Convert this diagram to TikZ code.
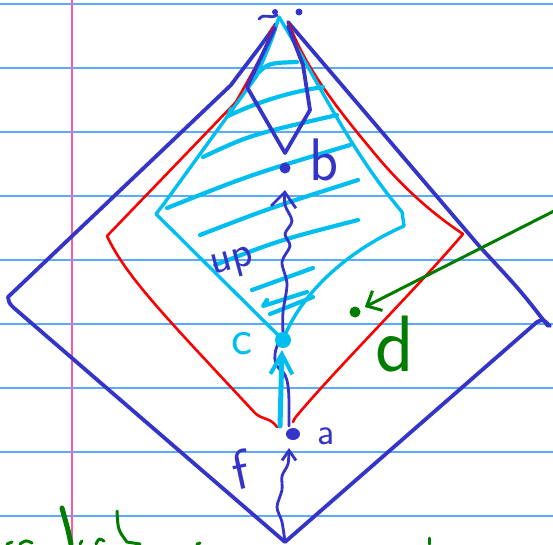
\documentclass[tikz,border=0pt]{standalone}
\usetikzlibrary{arrows.meta,decorations.pathmorphing}
\definecolor{ink}{RGB}{52,52,200}
\definecolor{penred}{RGB}{250,0,0}
\definecolor{sky}{RGB}{0,190,240}
\definecolor{leaf}{RGB}{0,125,0}
\definecolor{ruleblue}{RGB}{90,170,255}
\definecolor{marginpink}{RGB}{255,90,170}
\begin{document}
\begin{tikzpicture}[x=1pt,y=-1pt,line cap=round,line join=round,
  paperline/.style={ruleblue,line width=1.5pt},
  outerline/.style={ink,line width=3.8pt},
  redline/.style={penred,line width=2.6pt},
  cyanline/.style={sky,line width=3.4pt},
  hatch/.style={sky,line width=4.2pt},
  inkthin/.style={ink,line width=2.8pt},
  greenline/.style={leaf,line width=3pt},
  lbl/.style={inner sep=0pt,font=\sffamily}]
\fill[white] (0,0) rectangle (553,544);
\useasboundingbox (0,0) rectangle (553,544);
% notebook paper
\foreach \yy in {4,68,...,516} \draw[paperline] (0,\yy) -- (553,\yy);
\draw[marginpink,line width=1.5pt] (72,0) -- (72,544);

% named points
\coordinate (a) at (293,434);
\coordinate (b) at (285,168);
\coordinate (c) at (283,340);
\coordinate (d) at (355,312);
\coordinate (bot) at (285,542);
\coordinate (dfrom) at (556,210);

% outer dark blue diamond
\draw[outerline] (276,24) .. controls (262,45) and (248,62) .. (231,85)
  -- (8,297) .. controls (9,303) .. (14,308) -- (bot) -- (537,322)
  .. controls (543,319) .. (550,326);
\draw[outerline] (288,22) -- (480,247) .. controls (520,290) .. (548,326);

% red shape
\draw[redline] (273,27) .. controls (264,52) .. (236,102) -- (107,236)
  .. controls (122,268) and (150,300) .. (200,354) -- (255,413)
  .. controls (262,420) and (270,417) .. (277,427);
\draw[redline] (289,24) .. controls (305,65) and (330,100) .. (370,148)
  .. controls (400,185) and (430,212) .. (463,234)
  .. controls (420,285) and (330,375) .. (295,418) -- (293,422);

% cyan diamond
\draw[cyanline] (279,17) .. controls (272,40) .. (256,77) -- (163,205) -- (156,214) -- (c);
\draw[cyanline] (279,17) .. controls (320,85) and (350,150) .. (402,212) -- (404,226)
  .. controls (345,252) and (300,295) .. (c);

% cyan hatching
\draw[hatch] (256,75) .. controls (268,63) .. (297,62);
\draw[hatch] (231,109) -- (228,116) .. controls (260,101) and (290,92) .. (323,87);
\draw[hatch] (203,157) .. controls (250,135) .. (337,115);
\draw[hatch] (167,208) .. controls (250,175) .. (350,145);
\draw[hatch] (200,235) .. controls (270,208) .. (358,180);
\draw[hatch] (215,265) .. controls (280,240) .. (358,220);
\draw[hatch] (252,290) -- (313,268);
\draw[hatch] (267,300) -- (263,306) -- (307,292);
\draw[hatch] (270,314) -- (313,297);

% small dark blue kite
\draw[outerline] (275,28) -- (247,87) -- (285,153) -- (310,110) -- (303,65) -- (288,26);
% apex scribble and dot
\draw[inkthin] (259,19) .. controls (265,12) and (270,20) .. (277,15);
\fill[ink] (275,12) circle (3);
\fill[ink] (299,12) circle (3.5);

% wavy arrow c -> b
\draw[inkthin,-{Straight Barb[length=15pt,width=25pt,line width=2.8pt]}]
  plot[smooth] coordinates {(283,334) (283,312) (287,284) (282,262) (290,246) (285,234) (292,221) (285,205) (285,190)};

% dark blue line behind cyan arrow a -> c
\draw[inkthin] (289,426) .. controls (289,400) and (290,380) .. (283,372)
  .. controls (272,365) and (274,352) .. (278,344);
% cyan arrow a -> c
\draw[sky,line width=5pt,-{Straight Barb[length=20pt,width=22pt,line width=4pt]}]
  (280,426) -- (282,350);

% arrow f: bottom -> a
\draw[inkthin,-{Straight Barb[length=10pt,width=14pt,line width=2.8pt]}]
  plot[smooth] coordinates {(bot) (282,522) (277,507) (282,490) (282,476) (288,464) (289,448)};

% dots
\fill[ink] (b) circle (5.5);
\fill[sky] (c) circle (8);
\fill[ink] (a) ellipse (7 and 6);
\fill[leaf] (d) circle (5.5);

% green arrow to d
\draw[greenline,-{Straight Barb[length=12pt,width=22pt,line width=3pt]},shorten >=11pt] (dfrom) -- (d);

% labels
\node[lbl,ink,font=\sffamily\fontsize{60}{60}\selectfont] (lb) at (324,160) {b};
\node[lbl,sky,font=\sffamily\fontsize{50}{50}\selectfont] (lc) at (242,344) {c};
\node[lbl,ink,font=\sffamily\fontsize{38}{38}\selectfont] (la) at (326,436) {a};
\node[lbl,ink,rotate=12,font=\sffamily\fontsize{56}{56}\selectfont] (lf) at (240,470) {f};
\node[lbl,ink,rotate=15,font=\sffamily\fontsize{44}{44}\selectfont] (lup) at (233,264) {up};
\node[lbl,leaf,font=\sffamily\fontsize{80}{80}\selectfont] (ld) at (395,344) {d};

% cut-off green handwriting at the bottom
\draw[leaf,line width=5pt] (62,508) -- (68,530) -- (71,544);
\draw[greenline] (117,511) .. controls (118,530) .. (127,542) -- (140,544);
\draw[greenline] (7,544) -- (12,542);
\draw[greenline] (20,544) .. controls (26,540) .. (32,543);
\draw[greenline] (80,544) -- (82,541);
\draw[greenline] (96,544) .. controls (99,538) .. (104,541);
\draw[greenline] (197,544) -- (200,543);
\draw[greenline] (429,538) -- (429,544);
\end{tikzpicture}
\end{document}
